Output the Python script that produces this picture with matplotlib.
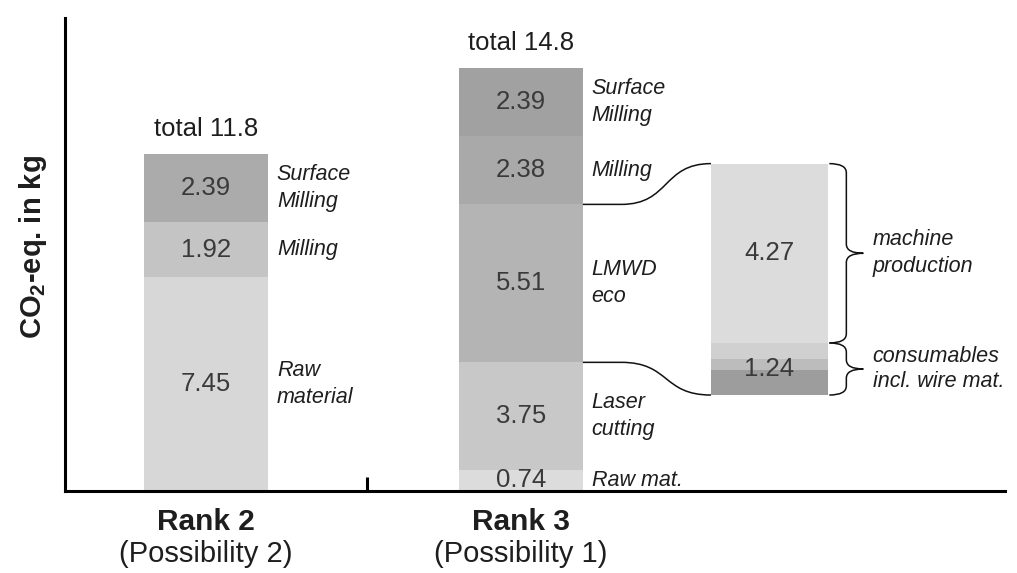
import numpy as np
import matplotlib
matplotlib.use('Agg')
import matplotlib.pyplot as plt
from matplotlib.path import Path
from matplotlib.patches import PathPatch
import matplotlib.transforms as mtransforms

plt.rcParams['font.family'] = ['Liberation Sans', 'DejaVu Sans']
plt.rcParams['mathtext.fontset'] = 'custom'
plt.rcParams['mathtext.rm'] = 'Liberation Sans'
plt.rcParams['mathtext.bf'] = 'Liberation Sans:bold'

# chart data
ranks = ['Rank 2', 'Rank 3']
possibilities = ['(Possibility 2)', '(Possibility 1)']
totals = [11.8, 14.8]

rank2_steps = ['Raw\nmaterial', 'Milling', 'Surface\nMilling']
rank2_values = [7.45, 1.92, 2.39]
rank2_colors = ['#d7d7d7', '#c4c4c4', '#ababab']

rank3_steps = ['Raw mat.', 'Laser\ncutting', 'LMWD\neco', 'Milling', 'Surface\nMilling']
rank3_values = [0.74, 3.75, 5.51, 2.38, 2.39]
rank3_colors = ['#dcdcdc', '#c8c8c8', '#b4b4b4', '#a9a9a9', '#a1a1a1']

# breakdown of LMWD eco
lmwd_parts = ['consumables\nincl. wire mat.', 'machine\nproduction']
lmwd_values = [1.24, 4.27]
consumable_shades = [0.60, 0.26, 0.38]   # unlabelled shades inside 1.24
consumable_colors = ['#9d9d9d', '#bcbcbc', '#d0d0d0']
machine_color = '#dcdcdc'

value_color = '#3a3a3a'
label_color = '#1e1e1e'

fig = plt.figure(figsize=(10.17, 5.73), dpi=100)
ax = fig.add_axes([0.0639, 0.143, 0.924, 0.8255])

bar_w = 0.394
bar_x = [0, 1]


def stacked(x, steps, values, colors):
    bottom = 0
    for s, v, c in zip(steps, values, colors):
        ax.bar(x, v, bottom=bottom, width=bar_w, color=c, linewidth=0)
        mid = bottom + v / 2
        ax.text(x, mid, f'{v:.2f}', ha='center', va='center',
                fontsize=18.5, color=value_color)
        ax.text(x + bar_w / 2 + 0.028, mid, s, ha='left', va='center',
                fontsize=15.5, style='italic', color=label_color, linespacing=1.38)
        bottom += v
    return bottom


stacked(bar_x[0], rank2_steps, rank2_values, rank2_colors)
stacked(bar_x[1], rank3_steps, rank3_values, rank3_colors)

for x, t in zip(bar_x, totals):
    ax.annotate(f'total {t}', xy=(x, t), xytext=(0, 17), textcoords='offset points',
                ha='center', va='center', fontsize=18.5, color=label_color)

# zoomed breakdown bar
zoom_x = 1.79
zoom_w = 0.372
zoom_base = 3.35
zoom_scale = 1.465

b = zoom_base
for v, c in zip(consumable_shades, consumable_colors):
    ax.bar(zoom_x, v * zoom_scale, bottom=b, width=zoom_w, color=c, linewidth=0)
    b += v * zoom_scale
cons_top = zoom_base + lmwd_values[0] * zoom_scale
ax.bar(zoom_x, lmwd_values[1] * zoom_scale, bottom=cons_top, width=zoom_w,
       color=machine_color, linewidth=0)
zoom_top = cons_top + lmwd_values[1] * zoom_scale

ax.text(zoom_x, zoom_base + lmwd_values[0] * zoom_scale / 2, f'{lmwd_values[0]:.2f}',
        ha='center', va='center', fontsize=18.5, color=value_color)
ax.text(zoom_x, cons_top + lmwd_values[1] * zoom_scale / 2, f'{lmwd_values[1]:.2f}',
        ha='center', va='center', fontsize=18.5, color=value_color)

# connectors from LMWD eco segment to the breakdown bar
lmwd_bottom = sum(rank3_values[:2])
lmwd_top = lmwd_bottom + rank3_values[2]
x0 = bar_x[1] + bar_w / 2
x1 = zoom_x - zoom_w / 2


def connector(y0, y1):
    dx = x1 - x0
    verts = [(x0, y0), (x0 + 0.3 * dx, y0),
             (x0 + 0.68 * dx, y0), (x0 + 0.62 * dx, y1), (x1, y1)]
    codes = [Path.MOVETO, Path.LINETO, Path.CURVE4, Path.CURVE4, Path.CURVE4]
    ax.add_patch(PathPatch(Path(verts, codes), fill=False, lw=1.1, color='#111111'))


connector(lmwd_top, zoom_top)
connector(lmwd_bottom, zoom_base)


def brace(y_low, y_high, x_left, w=0.108, r=0.32):
    xm = x_left + w / 2
    ym = (y_low + y_high) / 2
    verts = [(x_left, y_high),
             (xm, y_high), (xm, y_high - r),
             (xm, ym + r),
             (xm, ym), (x_left + w, ym),
             (xm, ym), (xm, ym - r),
             (xm, y_low + r),
             (xm, y_low), (x_left, y_low)]
    codes = [Path.MOVETO,
             Path.CURVE3, Path.CURVE3,
             Path.LINETO,
             Path.CURVE3, Path.CURVE3,
             Path.CURVE3, Path.CURVE3,
             Path.LINETO,
             Path.CURVE3, Path.CURVE3]
    ax.add_patch(PathPatch(Path(verts, codes), fill=False, lw=1.1, color='#111111'))
    return x_left + w, ym


bx = zoom_x + zoom_w / 2 + 0.004
tx, ty = brace(cons_top, zoom_top, bx)
ax.text(tx + 0.03, ty, lmwd_parts[1], ha='left', va='center', linespacing=1.38,
        fontsize=15.5, style='italic', color=label_color)
tx, ty = brace(zoom_base, cons_top, bx)
ax.text(tx + 0.03, ty, lmwd_parts[0], ha='left', va='center', linespacing=1.3,
        fontsize=15.5, style='italic', color=label_color)

# axes styling
ax.set_xlim(-0.448, 2.537)
ax.set_ylim(0, 16.5)
for side in ['top', 'right']:
    ax.spines[side].set_visible(False)
for side in ['left', 'bottom']:
    ax.spines[side].set_linewidth(2.2)
ax.set_yticks([])
ax.set_xticks([0.51])
ax.set_xticklabels([''])
ax.tick_params(axis='x', direction='in', length=10, width=2.2)

trans = mtransforms.blended_transform_factory(ax.transData, ax.transAxes)
for x, r, p in zip(bar_x, ranks, possibilities):
    ax.text(x, -0.066, r, transform=trans, ha='center', va='center',
            fontsize=21.5, fontweight='bold', color=label_color)
    ax.text(x, -0.133, p, transform=trans, ha='center', va='center',
            fontsize=21, color=label_color)

fig.text(0.032, 0.569, r'CO$_\mathbf{2}$-eq. in kg', rotation=90, ha='center',
         va='center', fontsize=21, fontweight='bold', color=label_color)

fig.savefig('out.png', dpi=100)
